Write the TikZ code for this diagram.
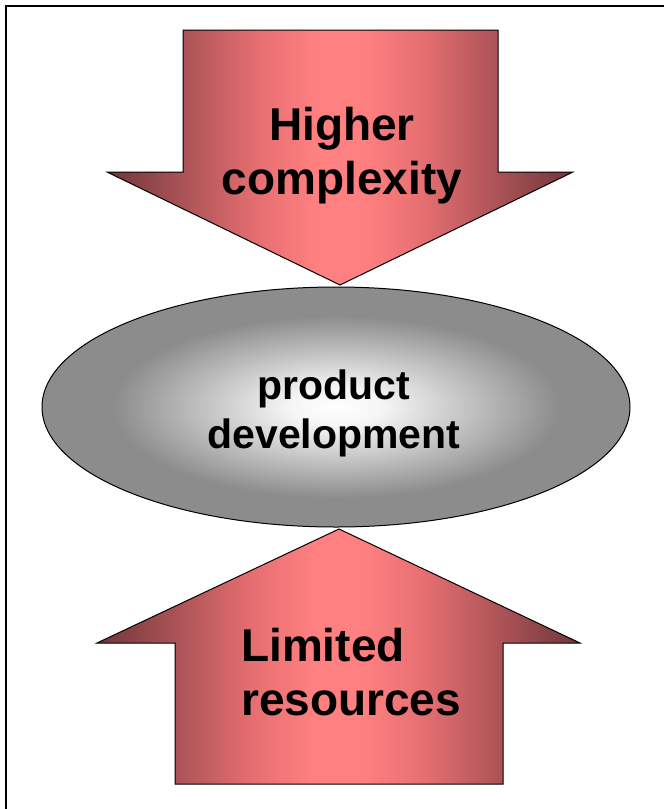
\documentclass[tikz,border=0pt]{standalone}
\usepackage{fontspec}
\setmainfont{Liberation Sans}
\usetikzlibrary{shapes.geometric}
\definecolor{arrowdark}{RGB}{112,54,58}
\definecolor{arrowmid}{RGB}{170,82,86}
\definecolor{arrowpale}{RGB}{232,112,114}
\definecolor{arrowlight}{RGB}{255,128,128}
\definecolor{ellgray}{RGB}{140,140,140}
\pgfdeclarehorizontalshading{arrowshade}{100bp}{color(0bp)=(arrowdark); color(25bp)=(arrowdark); color(33bp)=(arrowmid); color(41.5bp)=(arrowpale); color(47.5bp)=(arrowlight); color(52.5bp)=(arrowlight); color(58.5bp)=(arrowpale); color(67bp)=(arrowmid); color(75bp)=(arrowdark); color(100bp)=(arrowdark)}
\pgfdeclareradialshading{ellshade}{\pgfpoint{0bp}{0bp}}{color(0bp)=(white); color(4bp)=(white!96!black); color(19bp)=(ellgray); color(25bp)=(ellgray); color(50bp)=(ellgray)}
\tikzset{
    bigarrow/.style={draw=black, line width=1pt, shading=arrowshade},   % red block arrows
    arrowtext/.style={font=\fontsize{46}{54}\selectfont\bfseries, inner sep=0pt},
    centretext/.style={font=\fontsize{41}{49}\selectfont\bfseries, inner sep=0pt, align=center}
    }

\begin{document}
\begin{tikzpicture}[x=1pt,y=-1pt]
	\useasboundingbox (0,0) rectangle (664,809);
	\draw[line width=2pt] (6,6) rectangle (720,860);

	% top arrow
	\draw[bigarrow] (183,30) -- (498,30) -- (498,172) -- (573,172)
		-- (340,285) -- (107,172) -- (183,172) -- cycle;
	\node[arrowtext, align=center] (complexity) at (342,156) {Higher\\complexity};

	% bottom arrow
	\draw[bigarrow] (339,529) -- (580,643) -- (503,643) -- (503,784)
		-- (175,784) -- (175,643) -- (97,643) -- cycle;
	\node[arrowtext, align=left, anchor=west] (resources) at (241,672) {Limited\\resources};

	% centre
	\node[ellipse, draw=black, line width=1pt, shading=ellshade, minimum width=588pt, minimum height=240pt, inner sep=0pt] (dev) at (336,407) {};
	\node[centretext] (devtext) at (334,413) {product\\development};
\end{tikzpicture}
\end{document}
